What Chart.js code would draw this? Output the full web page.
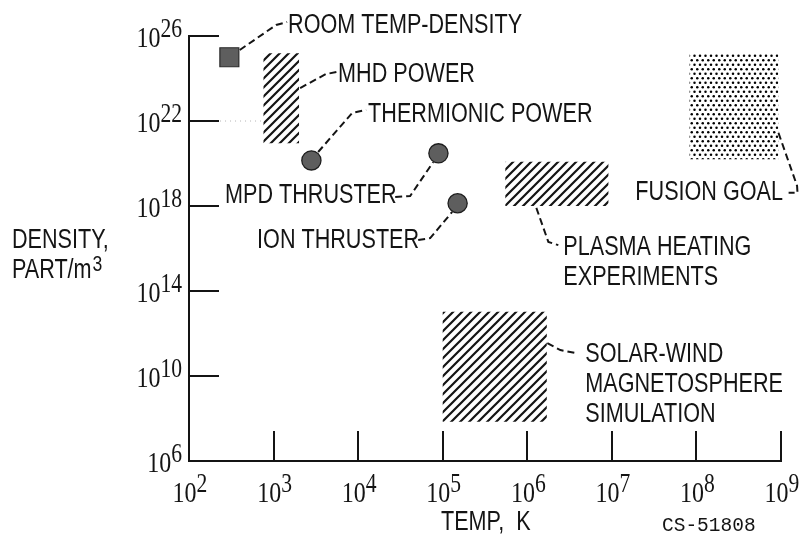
<!DOCTYPE html>
<html>
<head>
<meta charset="utf-8">
<title>Density vs temperature</title>
<script src="https://cdn.jsdelivr.net/npm/chart.js"></script>
<style>
  html, body { margin: 0; padding: 0; background: #fff; }
  canvas { display: block; }
</style>
</head>
<body>
<canvas id="chart" width="799" height="537"></canvas>
<script>
// --- axis decades (exponents of 10)
var xTickExps = [2, 3, 4, 5, 6, 7, 8, 9];
var yTickExps = [6, 10, 14, 18, 22, 26];

// --- single operating points: temperature (K), density (part/m3)
var roomTemp = [300];
var roomDensity = [1e25];
var dotNames = ['Thermionic power', 'MPD thruster', 'Ion thruster'];
var dotTemps = [2.8e3, 8.9e4, 1.5e5];
var dotDensities = [1.4e20, 3.0e20, 1.35e18];

// --- regions: temperature range and density range
var regionNames = ['MHD power', 'Plasma heating experiments', 'Fusion goal', 'Solar-wind magnetosphere simulation'];
var regionTempLo = [7.6e2, 5.5e5, 8.3e7, 1.0e5];
var regionTempHi = [2.0e3, 9.1e6, 9.3e8, 1.7e6];
var regionDensLo = [8.9e20, 1.0e18, 1.6e20, 7.1e7];
var regionDensHi = [1.55e25, 1.2e20, 1.6e25, 1.07e13];
var regionFill = ['hatch', 'hatch', 'dots', 'hatch'];

// --- callout text and where it sits (log10 T, log10 n of first baseline)
var labelLines = [
  ['ROOM TEMP-DENSITY'],
  ['MHD POWER'],
  ['THERMIONIC POWER'],
  ['MPD THRUSTER'],
  ['ION THRUSTER'],
  ['PLASMA HEATING', 'EXPERIMENTS'],
  ['FUSION GOAL'],
  ['SOLAR-WIND', 'MAGNETOSPHERE', 'SIMULATION']
];
var labelAt = [
  [3.172, 26.14], [3.763, 23.85], [4.118, 21.97], [2.426, 18.14],
  [2.805, 16.02], [6.426, 15.69], [7.278, 18.28], [6.686, 10.66]
];

// dashed leader lines from each label to its mark (log10 T, log10 n)
var leaderPaths = [
  [[2.60, 25.34], [3.03, 26.52], [3.16, 26.66]],
  [[3.314, 23.55], [3.62, 24.21], [3.75, 24.31]],
  [[3.527, 20.54], [3.93, 22.38], [4.095, 22.52]],
  [[4.438, 18.42], [4.615, 18.47], [4.888, 20.07]],
  [[4.71, 16.40], [4.852, 16.49], [5.112, 17.72]],
  [[6.107, 17.91], [6.249, 16.31], [6.367, 16.16]],
  [[8.97, 21.44], [9.19, 18.95], [9.195, 18.62], [9.09, 18.62]],
  [[6.237, 11.55], [6.391, 11.22], [6.58, 11.08]]
];
// faint dotted guide at 10^22 between the tick and the MHD band
var guide22 = [[2.367, 22], [2.864, 22]];

var INK = '#141414';

function pow10(p) { return { x: Math.pow(10, p[0]), y: Math.pow(10, p[1]) }; }

// pattern for the hatched bands
function makeHatch() {
  var s = 9, c = document.createElement('canvas');
  c.width = s; c.height = s;
  var g = c.getContext('2d');
  g.strokeStyle = INK;
  g.lineWidth = 2.2;
  g.lineCap = 'square';
  g.beginPath();
  g.moveTo(-1, 1); g.lineTo(1, -1);
  g.moveTo(0, s); g.lineTo(s, 0);
  g.moveTo(s - 1, s + 1); g.lineTo(s + 1, s - 1);
  g.stroke();
  return g.createPattern(c, 'repeat');
}

// pattern for the stippled fusion box (staggered rows of dots)
function makeDots() {
  var c = document.createElement('canvas');
  c.width = 11; c.height = 9;
  var g = c.getContext('2d');
  g.fillStyle = '#000';
  [[1.5, 1.75], [7, 1.75], [4.25, 6.25], [9.75, 6.25], [-1.25, 6.25]].forEach(function (d) {
    g.beginPath(); g.arc(d[0], d[1], 1.25, 0, Math.PI * 2); g.fill();
  });
  return g.createPattern(c, 'repeat');
}

var ctx = document.getElementById('chart').getContext('2d');
var patterns = { hatch: makeHatch(), dots: makeDots() };

var datasets = [];

// operating points first so they sit on top
datasets.push({
  label: 'Room temp-density',
  data: roomTemp.map(function (t, i) { return { x: t, y: roomDensity[i] }; }),
  pointStyle: 'rect',
  pointRadius: 13.4,
  backgroundColor: '#5e5e5e',
  borderColor: '#2a2a2a',
  borderWidth: 1.2
});
datasets.push({
  label: 'Points',
  data: dotTemps.map(function (t, i) { return { x: t, y: dotDensities[i] }; }),
  pointStyle: 'circle',
  pointRadius: 9.6,
  backgroundColor: '#5e5e5e',
  borderColor: '#1e1e1e',
  borderWidth: 1.3
});

leaderPaths.forEach(function (path, i) {
  datasets.push({
    type: 'line',
    label: 'leader ' + i,
    data: path.map(pow10),
    borderColor: INK,
    borderWidth: 2,
    borderDash: [7, 4],
    pointRadius: 0,
    fill: false,
    tension: 0,
    clip: false
  });
});

datasets.push({
  type: 'line',
  label: 'guide',
  data: guide22.map(pow10),
  borderColor: '#b4b4b4',
  borderWidth: 1,
  borderDash: [1, 4],
  pointRadius: 0,
  fill: false
});

regionNames.forEach(function (name, i) {
  var lo = regionTempLo[i], hi = regionTempHi[i];
  var dl = regionDensLo[i], dh = regionDensHi[i];
  datasets.push({
    type: 'line',
    label: name,
    data: [{ x: lo, y: dl }, { x: hi, y: dl }, { x: hi, y: dh }, { x: lo, y: dh }, { x: lo, y: dl }],
    borderWidth: 0,
    borderColor: 'rgba(0,0,0,0)',
    backgroundColor: patterns[regionFill[i]],
    fill: 'shape',
    pointRadius: 0,
    tension: 0
  });
});

// draws text squeezed horizontally; returns drawn width
function squeezed(g, str, x, y, font, sx, align) {
  g.save();
  g.font = font;
  var w = g.measureText(str).width * sx;
  var left = x;
  if (align === 'center') left = x - w / 2;
  else if (align === 'right') left = x - w;
  g.translate(left, y);
  g.scale(sx, 1);
  g.textAlign = 'left';
  g.textBaseline = 'alphabetic';
  g.fillText(str, 0, 0);
  g.restore();
  return w;
}

var BASE_FONT = '30px "Liberation Serif"';
var SUP_FONT = '27px "Liberation Serif"';
var LABEL_FONT = '27px "Liberation Sans"';

function widthOf(g, str, font, sx) {
  g.save(); g.font = font;
  var w = g.measureText(str).width * sx;
  g.restore();
  return w;
}

// "10" with a raised exponent
function drawPower(g, exp, x, baseY, supDy, align) {
  var w10 = widthOf(g, '10', BASE_FONT, 0.8);
  var wSup = widthOf(g, String(exp), SUP_FONT, 0.8);
  var total = w10 + wSup;
  var left = align === 'center' ? x - total / 2 : x - total;
  squeezed(g, '10', left, baseY, BASE_FONT, 0.8, 'left');
  squeezed(g, String(exp), left + w10, baseY - supDy, SUP_FONT, 0.8, 'left');
}

var chartDecor = {
  id: 'chartDecor',
  afterDatasetsDraw: function (chart) {
    var g = chart.ctx;
    var xs = chart.scales.x, ys = chart.scales.y;
    var area = chart.chartArea;
    g.save();
    g.fillStyle = INK;
    g.strokeStyle = INK;
    g.lineWidth = 2;

    // inward tick marks
    g.beginPath();
    xTickExps.forEach(function (e, i) {
      if (i === 0) return;
      var px = Math.round(xs.getPixelForValue(Math.pow(10, e)));
      g.moveTo(px, area.bottom);
      g.lineTo(px, area.bottom - 30);
    });
    yTickExps.forEach(function (e, i) {
      if (i === 0) return;
      var py = Math.round(ys.getPixelForValue(Math.pow(10, e)));
      g.moveTo(area.left, py);
      g.lineTo(area.left + 30, py);
    });
    g.stroke();

    // tick labels
    xTickExps.forEach(function (e) {
      var px = xs.getPixelForValue(Math.pow(10, e));
      drawPower(g, e, px + 1, area.bottom + 41, 10, 'center');
    });
    yTickExps.forEach(function (e) {
      var py = ys.getPixelForValue(Math.pow(10, e));
      drawPower(g, e, area.left - 7, py + 11, 10, 'right');
    });

    // callouts
    labelLines.forEach(function (lines, i) {
      var x = xs.getPixelForValue(Math.pow(10, labelAt[i][0]));
      var y = ys.getPixelForValue(Math.pow(10, labelAt[i][1]));
      lines.forEach(function (line, k) {
        squeezed(g, line, x, y + k * 29.8, LABEL_FONT, 0.8, 'left');
      });
    });

    // axis titles
    squeezed(g, 'DENSITY,', 12, 248, LABEL_FONT, 0.8, 'left');
    var wp = squeezed(g, 'PART/m', 12, 278, LABEL_FONT, 0.8, 'left');
    squeezed(g, '3', 12 + wp + 1, 271, '22px "Liberation Sans"', 0.8, 'left');
    squeezed(g, 'TEMP,  K', 441, 530, LABEL_FONT, 0.8, 'left');
    squeezed(g, 'CS-51808', 662, 531, '19.5px "Liberation Mono"', 1.0, 'left');
    g.restore();
  }
};

function decades(exps) {
  return function (scale) {
    scale.ticks = exps.map(function (e) { return { value: Math.pow(10, e) }; });
  };
}

new Chart(ctx, {
  type: 'scatter',
  data: { datasets: datasets },
  options: {
    responsive: false,
    animation: false,
    devicePixelRatio: 1,
    layout: { padding: { left: 189, right: 18, top: 36, bottom: 76 } },
    plugins: {
      legend: { display: false },
      tooltip: { enabled: false }
    },
    scales: {
      x: {
        type: 'logarithmic',
        min: 1e2,
        max: 1e9,
        afterBuildTicks: decades(xTickExps),
        ticks: { display: false },
        grid: { display: false, drawTicks: false },
        border: { display: true, color: INK, width: 2 }
      },
      y: {
        type: 'logarithmic',
        min: 1e6,
        max: 1e26,
        afterBuildTicks: decades(yTickExps),
        ticks: { display: false },
        grid: { display: false, drawTicks: false },
        border: { display: true, color: INK, width: 2 }
      }
    }
  },
  plugins: [chartDecor]
});
</script>
</body>
</html>
